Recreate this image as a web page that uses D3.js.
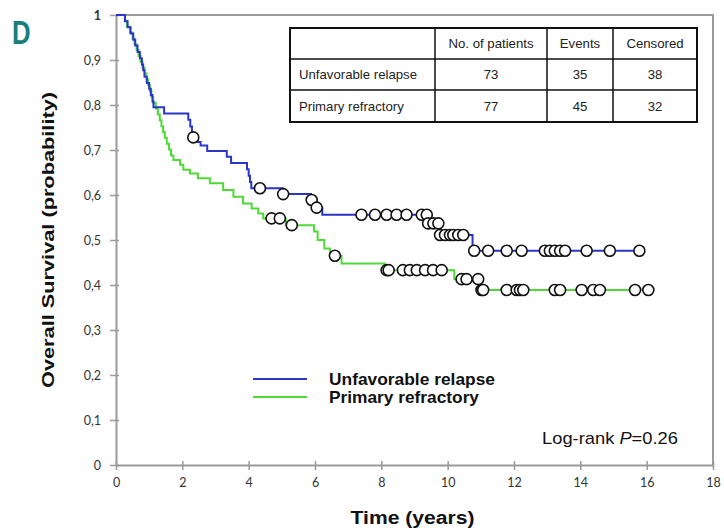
<!DOCTYPE html>
<html>
<head>
<meta charset="utf-8">
<script src="https://cdn.jsdelivr.net/npm/d3@7"></script>
<style>
  html, body { margin: 0; padding: 0; background: #fff; }
  svg { display: block; }
</style>
</head>
<body>
<svg id="chart" width="724" height="531"></svg>
<script>
// Kaplan–Meier overall survival by group

const timeTicks = [0, 2, 4, 6, 8, 10, 12, 14, 16, 18];
const survTicks = [0, 0.1, 0.2, 0.3, 0.4, 0.5, 0.6, 0.7, 0.8, 0.9, 1];
const survTickLabels = ["0", "0,1", "0,2", "0,3", "0,4", "0,5", "0,6", "0,7", "0,8", "0,9", "1"];

// [time in years, survival after the drop]
const relapseSteps = [
  [0.27, 0.986], [0.35, 0.973], [0.44, 0.959], [0.52, 0.945], [0.58, 0.932],
  [0.65, 0.918], [0.72, 0.904], [0.78, 0.890], [0.82, 0.877], [0.86, 0.863],
  [0.93, 0.849], [1.00, 0.836], [1.05, 0.822], [1.10, 0.808], [1.13, 0.795],
  [1.45, 0.781], [2.18, 0.767], [2.24, 0.752], [2.29, 0.728], [2.45, 0.718],
  [2.55, 0.710], [2.75, 0.698], [3.34, 0.685], [3.47, 0.671], [3.95, 0.657],
  [4.00, 0.643], [4.04, 0.629], [4.08, 0.615], [5.02, 0.602], [5.88, 0.589],
  [6.02, 0.572], [6.22, 0.556], [9.39, 0.537], [9.75, 0.511], [10.75, 0.476]
];
const relapseCensored = [
  2.33, 4.34, 5.04, 5.90, 6.05, 7.40, 7.81, 8.16, 8.46, 8.76, 9.22, 9.37,
  9.41, 9.57, 9.72, 9.77, 9.92, 10.07, 10.17, 10.32, 10.47,
  10.80, 11.22, 11.78, 12.23, 12.93, 13.08, 13.23, 13.39, 13.54,
  14.19, 14.89, 15.78
];

const refractorySteps = [
  [0.27, 0.987], [0.33, 0.974], [0.42, 0.961], [0.50, 0.948], [0.56, 0.935],
  [0.62, 0.922], [0.68, 0.909], [0.74, 0.896], [0.80, 0.883], [0.86, 0.870],
  [0.92, 0.857], [0.97, 0.844], [1.02, 0.831], [1.07, 0.818], [1.12, 0.805],
  [1.20, 0.792], [1.26, 0.779], [1.32, 0.766], [1.37, 0.753], [1.42, 0.740],
  [1.47, 0.727], [1.53, 0.714], [1.60, 0.701], [1.66, 0.688], [1.73, 0.678],
  [1.93, 0.667], [2.03, 0.656], [2.23, 0.648], [2.47, 0.637], [2.83, 0.626],
  [3.23, 0.611], [3.54, 0.596], [3.83, 0.581], [4.09, 0.570], [4.29, 0.559],
  [4.44, 0.548], [5.12, 0.533], [5.97, 0.519], [6.08, 0.500], [6.28, 0.481],
  [6.45, 0.465], [6.80, 0.448], [8.10, 0.433], [10.20, 0.413], [10.95, 0.389]
];
const refractoryCensored = [
  4.69, 4.94, 5.30, 6.60, 8.16, 8.22, 8.65, 8.86, 9.07, 9.32, 9.56, 9.82,
  10.42, 10.57, 10.92, 11.02, 11.07, 11.78, 12.08, 12.18, 12.28,
  13.23, 13.39, 14.04, 14.39, 14.59, 15.65, 16.05
];

const groupNames = ["Unfavorable relapse", "Primary refractory"];
const groupColors = ["#2b36c8", "#4fd936"];

const tableHeader = ["", "No. of patients", "Events", "Censored"];
const tableRows = [
  ["Unfavorable relapse", "73", "35", "38"],
  ["Primary refractory", "77", "45", "32"]
];

const svg = d3.select("#chart");
const plot = { left: 116, right: 713, top: 15, bottom: 465 };

const x = d3.scaleLinear().domain([0, 18]).range([plot.left, plot.right]);
const y = d3.scaleLinear().domain([0, 1]).range([plot.bottom, plot.top]);

const axisGrey = "#9a9a9a";

// Panel letter
svg.append("text")
  .attr("transform", "translate(12,44) scale(0.78,1)")
  .attr("font-family", "'Liberation Sans', sans-serif")
  .attr("font-weight", "bold")
  .attr("font-size", 33)
  .attr("fill", "#17807b")
  .text("D");

// Frame (top and right edges)
svg.append("path")
  .attr("d", `M${plot.left},${plot.top}H${plot.right}V${plot.bottom}`)
  .attr("fill", "none")
  .attr("stroke", axisGrey)
  .attr("stroke-width", 2);

// Axes
const xAxis = d3.axisBottom(x).tickValues(timeTicks).tickSize(0).tickPadding(0);
const gx = svg.append("g").attr("transform", `translate(0,${plot.bottom})`).call(xAxis);
gx.select(".domain").attr("stroke", axisGrey).attr("stroke-width", 2);
gx.selectAll(".tick line").remove();
gx.selectAll(".tick").append("line")
  .attr("y1", -4).attr("y2", 5)
  .attr("stroke", axisGrey).attr("stroke-width", 1.5);
gx.selectAll(".tick text")
  .attr("y", 22)
  .attr("dy", 0)
  .attr("font-family", "Lato, 'Open Sans', sans-serif")
  .attr("font-size", 12.5)
  .attr("fill", "#333");

const yAxis = d3.axisLeft(y).tickValues(survTicks)
  .tickFormat((d, i) => survTickLabels[i]).tickSize(0).tickPadding(0);
const gy = svg.append("g").attr("transform", `translate(${plot.left},0)`).call(yAxis);
gy.select(".domain").attr("stroke", axisGrey).attr("stroke-width", 2);
gy.selectAll(".tick line").remove();
gy.selectAll(".tick").append("line")
  .attr("x1", -6).attr("x2", 3)
  .attr("stroke", axisGrey).attr("stroke-width", 1.5);
gy.selectAll(".tick text")
  .attr("x", -15)
  .attr("dy", "0.35em")
  .attr("font-family", "Lato, 'Open Sans', sans-serif")
  .attr("font-size", 12.5)
  .attr("font-weight", (d) => d === 1 ? "bold" : "normal")
  .attr("fill", "#333");

// Axis titles
svg.append("text")
  .attr("transform", `translate(54,${(plot.top + plot.bottom) / 2}) rotate(-90)`)
  .attr("text-anchor", "middle")
  .attr("font-family", "'Liberation Sans', Arial, sans-serif")
  .attr("font-weight", "bold")
  .attr("font-size", 17)
  .attr("textLength", 296)
  .attr("lengthAdjust", "spacingAndGlyphs")
  .attr("fill", "#111")
  .text("Overall Survival (probability)");

svg.append("text")
  .attr("x", (plot.left + plot.right) / 2 - 2)
  .attr("y", 524)
  .attr("text-anchor", "middle")
  .attr("font-family", "'Liberation Sans', Arial, sans-serif")
  .attr("font-weight", "bold")
  .attr("font-size", 18)
  .attr("textLength", 124)
  .attr("lengthAdjust", "spacingAndGlyphs")
  .attr("fill", "#111")
  .text("Time (years)");

// Survival curves
const survivalAt = (steps, t) => {
  let s = 1;
  for (const [st, sv] of steps) { if (st <= t) s = sv; else break; }
  return s;
};

const groups = [
  { steps: relapseSteps, censored: relapseCensored, color: groupColors[0] },
  { steps: refractorySteps, censored: refractoryCensored, color: groupColors[1] }
];

const line = d3.line()
  .x((d) => x(d[0]))
  .y((d) => y(d[1]))
  .curve(d3.curveStepAfter);

// draw green first so blue sits on top in the shared early section
[groups[1], groups[0]].forEach((g) => {
  const end = d3.max(g.censored);
  const pts = [[0, 1], ...g.steps, [end, g.steps[g.steps.length - 1][1]]];
  svg.append("path")
    .datum(pts)
    .attr("d", line)
    .attr("fill", "none")
    .attr("stroke", g.color)
    .attr("stroke-width", 2);
});

groups.forEach((g) => {
  svg.append("g").selectAll("circle")
    .data(g.censored)
    .join("circle")
    .attr("cx", (t) => x(t))
    .attr("cy", (t) => y(survivalAt(g.steps, t)))
    .attr("r", 5.5)
    .attr("fill", "#fff")
    .attr("stroke", "#111")
    .attr("stroke-width", 1.6);
});

// Summary table
const colX = [290, 435, 547, 613, 697];
const rowY = [28, 59, 90, 122];
const table = svg.append("g");
const allRows = [tableHeader, ...tableRows];
allRows.forEach((row, ri) => {
  row.forEach((cell, ci) => {
    const cx = ci === 0 ? colX[0] + 9 : (colX[ci] + colX[ci + 1]) / 2;
    table.append("text")
      .attr("x", cx)
      .attr("y", (rowY[ri] + rowY[ri + 1]) / 2)
      .attr("dy", "0.35em")
      .attr("text-anchor", ci === 0 ? "start" : "middle")
      .attr("font-family", "'Liberation Sans', Arial, sans-serif")
      .attr("font-size", 13.2)
      .attr("fill", "#222")
      .text(cell);
  });
});
table.append("rect")
  .attr("x", colX[0]).attr("y", rowY[0])
  .attr("width", colX[4] - colX[0]).attr("height", rowY[3] - rowY[0])
  .attr("fill", "none").attr("stroke", "#111").attr("stroke-width", 2);
colX.slice(1, 4).forEach((cx) => {
  table.append("line")
    .attr("x1", cx).attr("x2", cx).attr("y1", rowY[0]).attr("y2", rowY[3])
    .attr("stroke", "#111").attr("stroke-width", 1.5);
});
rowY.slice(1, 3).forEach((ry) => {
  table.append("line")
    .attr("x1", colX[0]).attr("x2", colX[4]).attr("y1", ry).attr("y2", ry)
    .attr("stroke", "#111").attr("stroke-width", 1.5);
});

// Legend
const legend = svg.append("g");
groupNames.forEach((name, i) => {
  const ly = 379 + i * 18;
  legend.append("line")
    .attr("x1", 253).attr("x2", 307).attr("y1", ly).attr("y2", ly)
    .attr("stroke", groupColors[i]).attr("stroke-width", 2);
  legend.append("text")
    .attr("x", 329).attr("y", ly + 6)
    .attr("font-family", "'Liberation Sans', Arial, sans-serif")
    .attr("font-weight", "bold")
    .attr("font-size", 17)
    .attr("textLength", i === 0 ? 166 : 150)
    .attr("lengthAdjust", "spacingAndGlyphs")
    .attr("fill", "#111")
    .text(name);
});

// Log-rank test annotation
const lr = svg.append("text")
  .attr("x", 542).attr("y", 444)
  .attr("font-family", "'Liberation Sans', Arial, sans-serif")
  .attr("font-size", 17)
  .attr("textLength", 136)
  .attr("lengthAdjust", "spacingAndGlyphs")
  .attr("fill", "#111");
lr.append("tspan").text("Log-rank ");
lr.append("tspan").attr("font-style", "italic").text("P");
lr.append("tspan").text("=0.26");
</script>
</body>
</html>
